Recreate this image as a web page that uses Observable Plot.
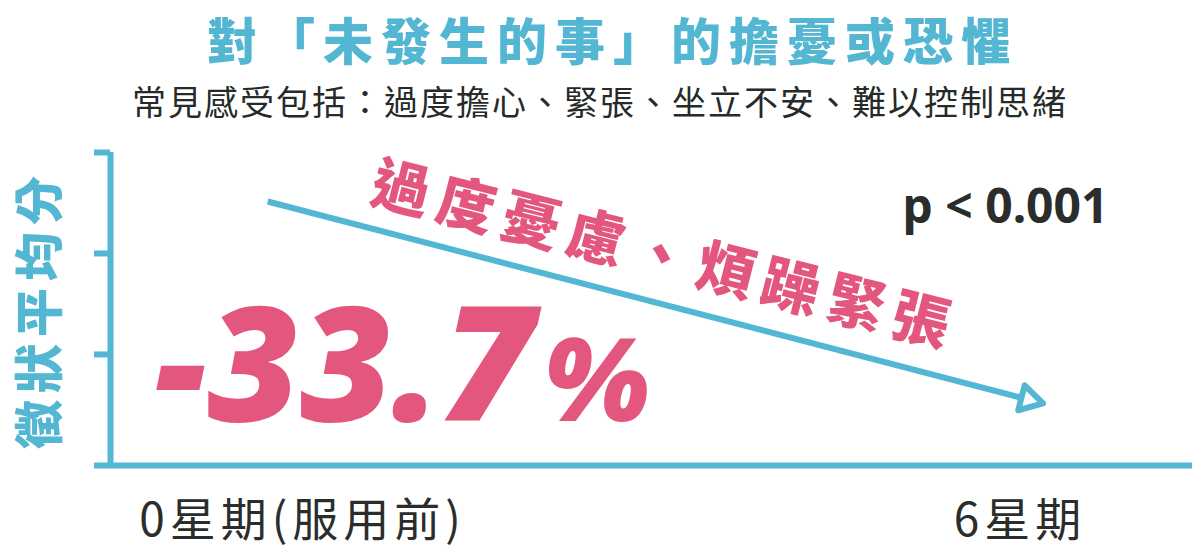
<!DOCTYPE html>
<html>
<head>
<meta charset="utf-8">
<script src="https://cdn.jsdelivr.net/npm/d3@7"></script>
<script src="https://cdn.jsdelivr.net/npm/@observablehq/plot@0.6"></script>
<style>
  body { margin: 0; background: #fff; width: 1200px; height: 554px; overflow: hidden; }
  #title { height: 76px; line-height: 76px; text-align: center; font-family: "Noto Sans CJK TC"; font-weight: 900; font-size: 50px; color: #53b6d2; letter-spacing: 8px; padding-left: 26px; box-sizing: border-box; white-space: nowrap; }
  #subtitle { height: 50px; line-height: 50px; text-align: center; font-family: "Noto Sans CJK TC"; font-weight: 400; font-size: 34px; color: #262a28; letter-spacing: 2px; white-space: nowrap; }
  #chart svg { display: block; }
</style>
</head>
<body>
<div id="title"></div>
<div id="subtitle"></div>
<div id="chart"></div>
<script>
// ---- data ----
const titleText = "對「未發生的事」的擔憂或恐懼";
const subtitleText = "常見感受包括：過度擔心、緊張、坐立不安、難以控制思緒";
const weeks = [0, 6];
const weekLabels = ["0星期(服用前)", "6星期"];
const scores = [2.53, 0.68];          // schematic mean symptom score at week 0 and week 6
const yTicks = [0, 1.1, 2.1, 3.1];
const yLabel = "徵狀平均分";
const changeValue = "-33.7";
const changeUnit = "%";
const pText = "p < 0.001";
const highlight = "過度憂慮、煩躁緊張";

// ---- styles ----
const teal = "#53b6d2";
const pink = "#e3577e";
const dark = "#2a2d2b";
const cjk = "Noto Sans CJK TC";

document.getElementById("title").textContent = titleText;
document.getElementById("subtitle").textContent = subtitleText;

const xDomain = [-1.59, 7.46];
const yDomain = [0, 3.1];
const arrowData = [{x1: weeks[0], y1: scores[0], x2: weeks[1], y2: scores[1]}];
const endPoint = [{x: weeks[1], y: scores[1]}];

// open triangle arrowhead pointing along the arrow direction
const headAngle = 14.6 * Math.PI / 180;
const headSymbol = {
  draw(context, size) {
    const R = Math.sqrt(size / Math.PI) * 1.75;
    for (let k = 0; k < 3; ++k) {
      const a = headAngle + k * 2 * Math.PI / 3;
      const px = R * Math.cos(a), py = R * Math.sin(a);
      if (k === 0) context.moveTo(px, py); else context.lineTo(px, py);
    }
    context.closePath();
  }
};

const chart = Plot.plot({
  width: 1200,
  height: 428,
  marginLeft: 110,
  marginRight: 8,
  marginTop: 26,
  marginBottom: 89,
  style: {fontFamily: cjk, color: dark, background: "#fff", overflow: "visible"},
  x: {domain: xDomain},
  y: {domain: yDomain},
  marks: [
    Plot.ruleY([yDomain[0]], {stroke: teal, strokeWidth: 6}),
    Plot.ruleX([xDomain[0]], {y1: yDomain[0], y2: yDomain[1], stroke: teal, strokeWidth: 6}),
    Plot.axisY({ticks: yTicks, tickSize: 16, tickFormat: () => "", label: null, stroke: teal, strokeWidth: 6}),
    Plot.axisX({ticks: weeks, tickSize: 0, tickPadding: 38, tickFormat: (d) => weekLabels[weeks.indexOf(d)], label: null, fontSize: 46, fill: dark, dx: 2}),
    Plot.text([yLabel], {frameAnchor: "left", dx: -69, rotate: -90, textAnchor: "middle", fill: teal, fontSize: 49, fontWeight: 900, fontFamily: cjk}),
    Plot.arrow(arrowData, {x1: "x1", y1: "y1", x2: "x2", y2: "y2", headLength: 0, insetStart: -34, insetEnd: -11, stroke: teal, strokeWidth: 6, strokeLinecap: "butt"}),
    Plot.dot(endPoint, {x: "x", y: "y", dx: 10.7, dy: 2.8, symbol: headSymbol, r: 8.5, fill: "#fff", stroke: teal, strokeWidth: 6, strokeLinejoin: "round"}),
    Plot.text([highlight], {frameAnchor: "top-left", dx: 560, dy: 83, rotate: 14.2, textAnchor: "middle", fill: pink, fontSize: 58, fontWeight: 900, fontFamily: cjk}),
    Plot.text([changeValue], {frameAnchor: "bottom-left", dx: 44, dy: -45, textAnchor: "start", lineAnchor: "bottom", fill: pink, fontSize: 160, fontWeight: 800, fontStyle: "italic", fontFamily: "Open Sans"}),
    Plot.text([changeUnit], {frameAnchor: "bottom-left", dx: 432, dy: -45, textAnchor: "start", lineAnchor: "bottom", fill: pink, fontSize: 115, fontWeight: 800, fontStyle: "italic", fontFamily: "Open Sans"}),
    Plot.text([pText], {frameAnchor: "top-right", dx: -84, dy: 70, textAnchor: "end", lineAnchor: "bottom", fill: dark, fontSize: 48, fontWeight: 700, fontFamily: "Noto Sans"})
  ]
});

d3.select(chart).selectAll("text").each(function () {
  if (this.textContent === highlight) this.setAttribute("letter-spacing", "9");
  if (this.textContent === yLabel) this.setAttribute("letter-spacing", "7");
  if (weekLabels.includes(this.textContent)) this.setAttribute("letter-spacing", "5");
});

document.getElementById("chart").appendChild(chart);
</script>
</body>
</html>
